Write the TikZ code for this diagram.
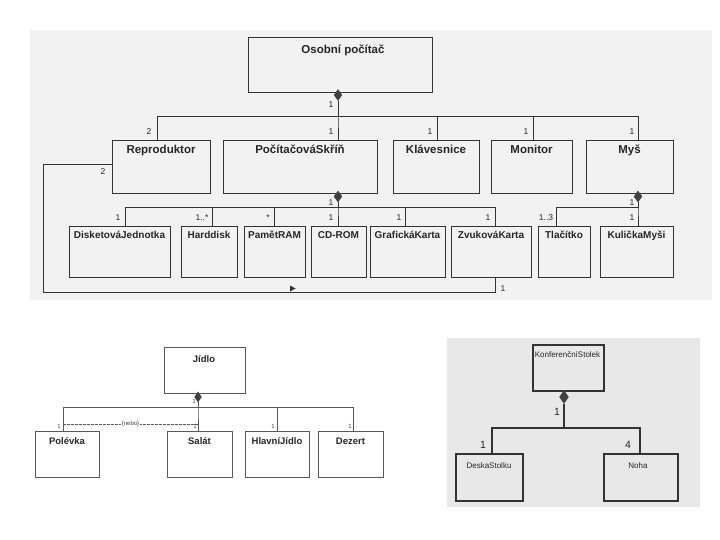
\documentclass[tikz,border=0pt]{standalone}
\usepackage{fontspec}
\setmainfont{Liberation Sans}
\usetikzlibrary{shapes.geometric}
\begin{document}
\begin{tikzpicture}[x=1pt,y=-1pt,
  ln/.style={draw=black!80, line width=0.8pt},
  lnb/.style={draw=black!65, line width=0.7pt},
  lnr/.style={draw=black!80, line width=1.2pt},
  box/.style={draw=black!80, line width=0.9pt, rectangle, inner sep=0pt, anchor=north west},
  bx/.style n args={2}{box, minimum width=#1pt, minimum height=#2pt},
  bxb/.style n args={2}{bx={#1}{#2}, draw=black!65, line width=0.8pt},
  bxr/.style n args={2}{bx={#1}{#2}, line width=1.8pt},
  ttl/.style={anchor=north, inner sep=0pt, font=\fontsize{11.5}{13}\selectfont\bfseries, text=black!85, text height=8.2pt, text depth=2pt},
  ttls/.style={ttl, font=\fontsize{10}{12}\selectfont\bfseries, text height=7.2pt},
  ttlb/.style={ttl, font=\fontsize{9.5}{11}\selectfont\bfseries, text height=6.8pt},
  ttlr/.style={ttl, font=\fontsize{8}{9}\selectfont, text height=5.8pt},
  mult/.style={inner sep=0pt, font=\fontsize{8.5}{9}\selectfont, text=black!85},
  multb/.style={inner sep=0pt, font=\fontsize{6}{7}\selectfont, text=black!75},
  multr/.style={inner sep=0pt, font=\fontsize{10.5}{12}\selectfont, text=black!85},
  dia/.style={diamond, fill=black!75, draw=black!75, inner sep=0pt, minimum width=8pt, minimum height=11pt},
  diar/.style={dia, minimum width=9pt, minimum height=13pt},
]
\useasboundingbox (0,0) rectangle (720,540);
% scanned backgrounds
\fill[black!5] (30,30) rectangle (712,300);
\fill[black!9] (447,338) rectangle (700,507);

% ---------- top diagram ----------
\node[bx={184}{55}] (os) at (248,37) {};
\node[ttl] (os-t) at (343,45) {Osobní počítač};
\node[dia] (d-os) at (338,95) {};

\node[bx={98}{53}] (rep) at (112,140) {};
\node[ttl] (rep-t) at (161,145) {Reproduktor};
\node[bx={154}{53}] (skr) at (223,140) {};
\node[ttl] (skr-t) at (300,145) {PočítačováSkříň};
\node[bx={86}{53}] (kla) at (393,140) {};
\node[ttl] (kla-t) at (436,145) {Klávesnice};
\node[bx={81}{53}] (mon) at (491,140) {};
\node[ttl] (mon-t) at (531.5,145) {Monitor};
\node[bx={87}{53}] (mys) at (586,140) {};
\node[ttl] (mys-t) at (629.5,145) {Myš};

\node[dia] (d-skr) at (338,196.5) {};
\node[dia] (d-mys) at (638,196.5) {};

\node[bx={101}{51}] (dis) at (69,226) {};
\node[ttls] (dis-t) at (119.5,231) {DisketováJednotka};
\node[bx={56}{51}] (hdd) at (181,226) {};
\node[ttls] (hdd-t) at (209,231) {Harddisk};
\node[bx={61}{51}] (ram) at (244,226) {};
\node[ttls] (ram-t) at (274.5,231) {PamětRAM};
\node[bx={55}{51}] (cd) at (311,226) {};
\node[ttls] (cd-t) at (338.5,231) {CD-ROM};
\node[bx={75}{51}] (gra) at (370,226) {};
\node[ttls] (gra-t) at (407.5,231) {GrafickáKarta};
\node[bx={80}{51}] (zvu) at (451,226) {};
\node[ttls] (zvu-t) at (491,231) {ZvukováKarta};
\node[bx={52}{51}] (tla) at (538,226) {};
\node[ttls] (tla-t) at (564,231) {Tlačítko};
\node[bx={73}{51}] (kul) at (600,226) {};
\node[ttls] (kul-t) at (636.5,231) {KuličkaMyši};

% connectors
\coordinate (bus1) at (338,116);
\foreach \nn/\xx in {rep/157, skr/338, kla/437, mon/533, mys/638}
  \draw[ln] (d-os.south) -- (bus1) -| (\nn.north -| \xx,0);
\coordinate (bus2) at (338,207);
\foreach \nn/\xx in {dis/125, hdd/212, ram/274, cd/338, gra/405, zvu/495}
  \draw[ln] (d-skr.south) -- (bus2) -| (\nn.north -| \xx,0);
\coordinate (bus3) at (638,207);
\foreach \nn/\xx in {tla/556, kul/638}
  \draw[ln] (d-mys.south) -- (bus3) -| (\nn.north -| \xx,0);
\draw[ln] (rep.west |- 0,164) -| (43,292) -| (zvu.south -| 495,0);
\fill[black!80] (290,285.5) -- (295.5,288.5) -- (290,291.5) -- cycle;

% multiplicities
\node[mult] (m1) at (331,105) {1};
\node[mult] (m2) at (149,132) {2};
\node[mult] (m3) at (331,132) {1};
\node[mult] (m4) at (430,132) {1};
\node[mult] (m5) at (526,132) {1};
\node[mult] (m6) at (632,132) {1};
\node[mult] (m7) at (103,172) {2};
\node[mult] (m8) at (331,203) {1};
\node[mult] (m9) at (118,218) {1};
\node[mult] (m10) at (202,218) {1..*};
\node[mult] (m11) at (268,218) {*};
\node[mult] (m12) at (331,218) {1};
\node[mult] (m13) at (399,218) {1};
\node[mult] (m14) at (488,218) {1};
\node[mult] (m15) at (546,218) {1..3};
\node[mult] (m16) at (632,218) {1};
\node[mult] (m17) at (632,203) {1};
\node[mult] (m18) at (503,289) {1};

% ---------- bottom-left diagram ----------
\node[bxb={81}{46}] (jid) at (164,347) {};
\node[ttlb] (jid-t) at (204,355) {Jídlo};
\node[dia, minimum height=10pt, minimum width=7pt] (d-jid) at (198,397) {};
\node[bxb={64}{46}] (pol) at (35,431) {};
\node[ttlb] (pol-t) at (67,437) {Polévka};
\node[bxb={65}{46}] (sal) at (167,431) {};
\node[ttlb] (sal-t) at (199.5,437) {Salát};
\node[bxb={64}{46}] (hla) at (245,431) {};
\node[ttlb] (hla-t) at (277,437) {HlavníJídlo};
\node[bxb={65}{46}] (dez) at (318,431) {};
\node[ttlb] (dez-t) at (350.5,437) {Dezert};
\coordinate (bus4) at (198,407);
\foreach \nn/\xx in {pol/63, sal/198, hla/277, dez/353}
  \draw[lnb] (d-jid.south) -- (bus4) -| (\nn.north -| \xx,0);
\coordinate (xpol) at (63,424);
\coordinate (xsal) at (198,424);
\draw[lnb, dashed, dash pattern=on 2.5pt off 1.5pt] (xpol) -- node[fill=white, inner sep=0.8pt, font=\fontsize{6}{7}\selectfont, text=black!75] (nebo) {\{nebo\}} (xsal);
\node[multb] (b1) at (194,401) {1};
\node[multb] (b2) at (59,426) {1};
\node[multb] (b3) at (195,426) {1};
\node[multb] (b4) at (273,426) {1};
\node[multb] (b5) at (350,426) {1};

% ---------- right diagram ----------
\node[bxr={71}{46}] (kon) at (532,344) {};
\node[ttlr] (kon-t) at (567.5,351) {KonferenčníStolek};
\node[diar] (d-kon) at (564,397) {};
\node[bxr={67}{47}] (des) at (455,453) {};
\node[ttlr] (des-t) at (489,462) {DeskaStolku};
\node[bxr={74}{47}] (noh) at (603,453) {};
\node[ttlr] (noh-t) at (638,462) {Noha};
\coordinate (bus5) at (564,428);
\foreach \nn/\xx in {des/492, noh/640}
  \draw[lnr] (d-kon.south) -- (bus5) -| (\nn.north -| \xx,0);
\node[multr] (r1) at (557,412) {1};
\node[multr] (r2) at (483,445) {1};
\node[multr] (r3) at (628,445) {4};
\end{tikzpicture}
\end{document}
